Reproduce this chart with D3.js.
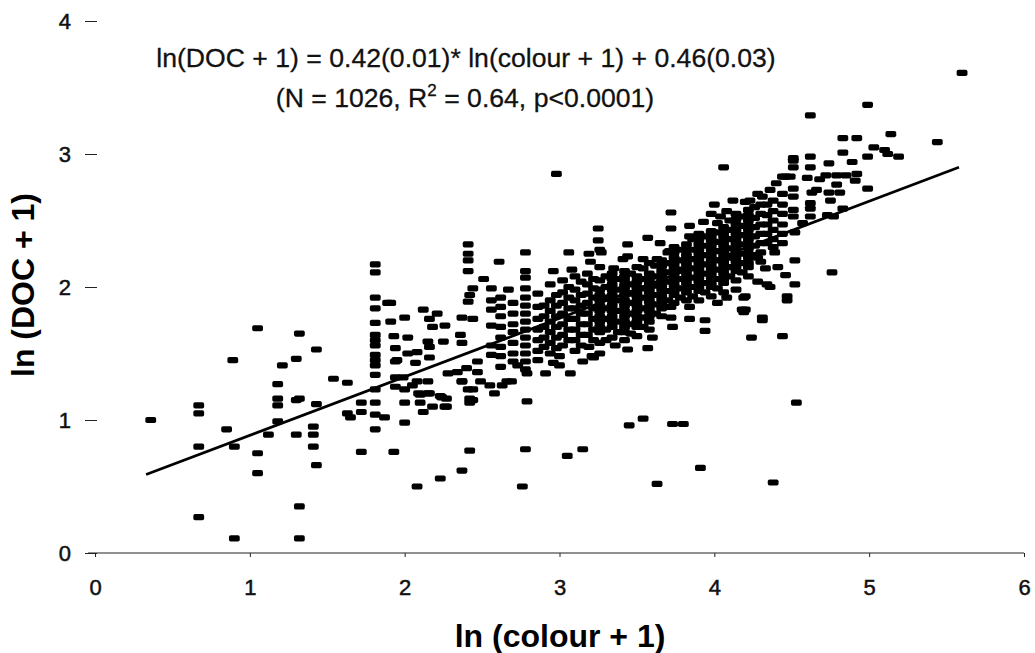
<!DOCTYPE html>
<html>
<head>
<meta charset="utf-8">
<script src="https://cdn.jsdelivr.net/npm/d3@7"></script>
<style>
  body { margin: 0; background: #fff; }
  svg { font-family: Arial, "Liberation Sans", sans-serif; }
  .tick text { font-size: 22px; fill: #111; stroke: #111; stroke-width: 0.5px; }
  .tick line { stroke: #222; }
</style>
</head>
<body>
<svg id="chart" width="1035" height="653"></svg>
<script>
// ln(colour + 1) vs ln(DOC + 1)
var points = [
  [0.36,1.00],[0.67,1.11],[0.67,1.05],[0.67,0.80],[0.67,0.27],[0.85,0.93],[0.90,0.80],[0.90,0.11],
  [1.05,0.75],[1.05,0.60],[1.12,0.89],[1.18,1.27],[1.18,1.16],[1.18,1.11],[1.18,0.99],[1.30,1.15],
  [1.30,0.89],[1.32,0.35],[1.32,0.11],[1.05,1.69],[0.89,1.45],[1.32,1.65],[1.43,1.53],[1.30,1.46],
  [1.21,1.41],[1.32,1.16],[1.54,1.31],[1.63,1.28],[1.43,1.12],[1.41,0.95],[1.41,0.89],[1.41,0.80],
  [1.43,0.66],[1.63,1.05],[1.65,1.02],[1.72,1.13],[1.72,1.06],[1.72,0.76],
  [1.81,2.17],[1.81,2.11],[1.81,1.92],[1.81,1.84],[1.81,1.73],[1.81,1.64],[1.81,1.60],[1.81,1.56],
  [1.81,1.49],[1.81,1.45],[1.81,1.41],[1.81,1.34],[1.81,1.23],[1.81,1.13],[1.81,1.04],[1.81,0.93],
  [1.89,1.88],[1.91,1.74],[1.93,1.63],[1.94,1.54],[1.94,1.44],[1.94,1.32],[1.94,1.25],[1.87,1.02],
  [1.93,0.76],[2.00,1.23],[2.00,1.13],[2.00,0.98],[2.10,1.13],[2.12,1.06],[2.18,1.10],[2.08,0.50],
  [2.23,0.56],[2.37,0.62],[2.42,0.77],[2.42,1.16],[2.42,1.13],[2.27,1.10],[2.27,1.16],[2.16,1.20],
  [2.23,1.18],[2.10,1.19],[2.05,1.26],[2.37,1.29],[2.49,1.29],[2.44,1.23],[2.58,1.20],[2.63,1.26],
  [2.69,1.29],[2.79,1.14],[2.78,0.78],[2.76,0.50],
  [2.41,2.32],[2.41,2.25],[2.41,2.20],[2.41,2.12],[2.61,2.19],[2.78,2.26],[2.78,2.12],[2.78,2.07],
  [2.78,1.99],[2.51,2.06],[3.06,2.26],[3.19,2.25],[3.20,2.19],[3.25,2.44],[3.25,2.35],[2.96,2.12],
  [3.08,2.13],[2.44,1.99],[2.42,1.94],[2.41,1.89],[2.56,1.99],[2.62,1.92],[2.67,1.98],[2.12,1.83],
  [2.21,1.80],[2.00,1.77],[2.16,1.76],[1.91,1.88],[2.18,1.70],[2.26,1.71],[2.37,1.77],[2.44,1.76],
  [2.02,1.62],[2.15,1.59],[2.25,1.59],[2.36,1.64],[2.37,1.58],[2.08,1.51],[2.02,1.50],[2.16,1.47],
  [2.16,1.55],[1.95,1.45],[2.07,1.43],[1.99,1.32],[2.08,1.29],[2.15,1.29],[2.28,1.35],[2.34,1.36],
  [2.40,1.39],[2.47,1.44],[2.47,1.36],[2.37,1.29],[2.09,1.20],[2.15,1.20],[2.24,1.17],[2.26,1.10],
  [2.41,1.23],[2.44,1.15],[2.55,1.26],[2.66,1.29],[2.79,1.35],[2.91,1.35],[3.07,1.35],[3.00,1.41],
  [2.73,1.41],[2.86,1.45],[2.96,1.43],[3.00,1.48],[3.15,1.44],[3.21,1.48],[3.19,1.55],
  [2.56,1.90],[2.56,1.83],[2.56,1.71],[2.56,1.56],[2.56,1.49],
  [2.62,1.85],[2.62,1.78],[2.62,1.70],[2.62,1.62],[2.62,1.55],[2.62,1.48],[2.62,1.40],
  [2.70,1.88],[2.70,1.80],[2.70,1.72],[2.70,1.66],[2.70,1.58],[2.70,1.50],[2.70,1.44],
  [2.78,1.92],[2.78,1.86],[2.78,1.80],[2.78,1.74],[2.78,1.68],[2.78,1.62],[2.78,1.56],[2.78,1.50],
  [2.78,1.44],[2.78,1.38],
  [2.86,1.95],[2.86,1.85],[2.86,1.76],[2.86,1.68],[2.86,1.60],[2.86,1.52],
  [2.90,1.86],[2.90,1.78],[2.90,1.70],[2.90,1.62],[2.90,1.55],
  [2.94,2.02],[2.94,1.90],[2.94,1.82],[2.94,1.74],[2.94,1.66],[2.94,1.58],[2.94,1.50],
  [2.98,1.94],[2.98,1.86],[2.98,1.78],[2.98,1.70],[2.98,1.62],[2.98,1.54],
  [3.02,2.05],[3.02,1.96],[3.02,1.88],[3.02,1.80],[3.02,1.72],[3.02,1.64],[3.02,1.56],
  [3.06,2.00],[3.06,1.92],[3.06,1.84],[3.06,1.76],[3.06,1.68],[3.06,1.60],
  [3.10,2.08],[3.10,1.98],[3.10,1.90],[3.10,1.84],[3.10,1.76],[3.10,1.68],[3.10,1.60],[3.10,1.52],
  [3.14,2.04],[3.14,1.94],[3.14,1.86],[3.14,1.80],[3.14,1.72],[3.14,1.64],[3.14,1.56],
  [3.18,2.10],[3.18,2.02],[3.18,1.95],[3.18,1.88],[3.18,1.80],[3.18,1.72],[3.18,1.64],
  [3.22,2.06],[3.22,1.99],[3.22,1.92],[3.22,1.84],[3.22,1.76],[3.22,1.68],[3.22,1.60],
  [3.26,2.28],[3.26,2.15],[3.26,2.05],[3.26,1.98],[3.26,1.90],[3.26,1.82],[3.26,1.74],[3.26,1.66],
  [3.26,1.58],[3.26,1.50],[3.26,1.94],[3.26,1.86],[3.26,1.78],[3.26,1.70],
  [3.30,2.08],[3.30,2.00],[3.30,1.92],[3.30,1.84],[3.30,1.76],[3.30,1.68],[3.30,1.60],
  [3.27,2.26],[3.72,2.44],[3.84,2.46],[3.84,2.38],[3.93,2.49],[4.04,2.53],[4.08,2.57],[4.23,2.65],
  [4.31,2.68],[3.44,2.32],[3.57,2.37],[3.65,2.33],[3.71,2.27],[3.44,2.23],[3.41,2.21],[3.54,2.21],
  [3.35,2.14],[3.63,2.21],
  [3.72,1.85],[3.84,1.85],[3.84,1.76],[3.72,1.77],[3.73,1.70],[3.94,1.75],[3.94,1.67],[4.08,1.92],
  [4.19,1.92],[4.19,1.81],[4.31,1.75],[4.24,1.62],[4.33,2.14],[4.34,2.02],[3.60,1.62],[3.57,1.54],
  [3.44,1.53],[3.36,1.56],[3.22,1.47],[4.02,1.88],[4.18,1.83],
  [3.34,2.10],[3.34,2.02],[3.34,1.94],[3.34,1.86],[3.34,1.78],[3.34,1.70],[3.34,1.62],
  [3.34,2.06],[3.34,1.98],[3.34,1.90],[3.34,1.82],[3.34,1.74],
  [3.38,2.06],[3.38,1.98],[3.38,1.90],[3.38,1.82],[3.38,1.74],[3.38,1.66],
  [3.42,2.12],[3.42,2.05],[3.42,1.98],[3.42,1.90],[3.42,1.82],[3.42,1.74],[3.42,1.66],[3.42,1.60],
  [3.42,2.08],[3.42,2.01],[3.42,1.94],[3.42,1.86],[3.42,1.78],[3.42,1.70],
  [3.46,2.10],[3.46,2.02],[3.46,1.95],[3.46,1.88],[3.46,1.80],[3.46,1.72],[3.46,1.65],
  [3.50,2.15],[3.50,2.08],[3.50,2.00],[3.50,1.93],[3.50,1.86],[3.50,1.78],[3.50,1.70],[3.50,1.63],
  [3.50,2.04],[3.50,1.96],[3.50,1.89],[3.50,1.82],[3.50,1.74],
  [3.54,2.14],[3.54,2.06],[3.54,1.99],[3.54,1.92],[3.54,1.84],[3.54,1.77],[3.54,1.70],
  [3.58,2.18],[3.58,2.10],[3.58,2.03],[3.58,1.96],[3.58,1.89],[3.58,1.82],[3.58,1.74],[3.58,1.68],
  [3.58,2.06],[3.58,1.99],[3.58,1.92],[3.58,1.85],[3.58,1.78],
  [3.62,2.16],[3.62,2.08],[3.62,2.01],[3.62,1.94],[3.62,1.87],[3.62,1.80],
  [3.66,2.20],[3.66,2.12],[3.66,2.05],[3.66,1.98],[3.66,1.91],[3.66,1.84],[3.66,1.78],
  [3.66,2.16],[3.66,2.08],[3.66,2.01],[3.66,1.94],[3.66,1.87],
  [3.70,2.26],[3.70,2.18],[3.70,2.11],[3.70,2.04],[3.70,1.97],[3.70,1.90],
  [3.74,2.30],[3.74,2.22],[3.74,2.15],[3.74,2.08],[3.74,2.01],[3.74,1.94],[3.74,1.88],
  [3.74,2.26],[3.74,2.18],[3.74,2.11],[3.74,2.04],[3.74,1.97],
  [3.78,2.28],[3.78,2.20],[3.78,2.13],[3.78,2.06],[3.78,1.99],[3.78,1.92],
  [3.82,2.32],[3.82,2.24],[3.82,2.17],[3.82,2.10],[3.82,2.03],[3.82,1.96],[3.82,1.90],
  [3.82,2.28],[3.82,2.20],[3.82,2.13],[3.82,2.06],[3.82,1.99],
  [3.86,2.36],[3.86,2.28],[3.86,2.21],[3.86,2.14],[3.86,2.07],[3.86,2.00],[3.86,1.93],
  [3.90,2.40],[3.90,2.32],[3.90,2.25],[3.90,2.18],[3.90,2.11],[3.90,2.04],[3.90,1.97],[3.90,1.90],
  [3.90,2.36],[3.90,2.28],[3.90,2.21],[3.90,2.14],[3.90,2.07],[3.90,2.00],
  [3.94,2.38],[3.94,2.31],[3.94,2.24],[3.94,2.17],[3.94,2.10],[3.94,2.03],[3.94,1.96],
  [3.98,2.42],[3.98,2.35],[3.98,2.28],[3.98,2.21],[3.98,2.14],[3.98,2.07],[3.98,2.00],[3.98,1.93],
  [3.98,2.38],[3.98,2.31],[3.98,2.24],[3.98,2.17],[3.98,2.10],[3.98,2.03],
  [4.02,2.48],[4.02,2.41],[4.02,2.34],[4.02,2.27],[4.02,2.20],[4.02,2.13],[4.02,2.06],[4.02,1.99],
  [4.06,2.45],[4.06,2.38],[4.06,2.31],[4.06,2.24],[4.06,2.17],[4.06,2.10],[4.06,2.03],[4.06,1.96],
  [4.06,2.41],[4.06,2.34],[4.06,2.27],[4.06,2.20],[4.06,2.13],[4.06,2.06],
  [4.10,2.50],[4.10,2.43],[4.10,2.36],[4.10,2.29],[4.10,2.22],[4.10,2.15],[4.10,2.08],
  [4.14,2.55],[4.14,2.47],[4.14,2.40],[4.14,2.33],[4.14,2.26],[4.14,2.19],[4.14,2.12],[4.14,2.05],
  [4.14,1.98],[4.14,2.51],[4.14,2.43],[4.14,2.36],[4.14,2.29],[4.14,2.22],[4.14,2.15],
  [4.18,2.53],[4.18,2.46],[4.18,2.39],[4.18,2.32],[4.18,2.25],[4.18,2.18],[4.18,2.11],
  [4.22,2.58],[4.22,2.50],[4.22,2.43],[4.22,2.36],[4.22,2.29],[4.22,2.22],[4.22,2.15],[4.22,2.08],
  [4.22,2.54],[4.22,2.46],[4.22,2.39],[4.22,2.32],[4.22,2.25],[4.22,2.18],
  [4.26,2.60],[4.26,2.52],[4.26,2.45],[4.26,2.38],[4.26,2.31],[4.26,2.24],
  [4.30,2.62],[4.30,2.55],[4.30,2.47],[4.30,2.40],[4.30,2.33],[4.30,2.26],[4.30,2.19],
  [4.34,2.62],[4.34,2.54],[4.34,2.47],[4.34,2.40],[4.34,2.33],
  [4.38,2.65],[4.38,2.57],[4.38,2.50],[4.38,2.43],[4.38,2.36],[4.38,2.30],
  [4.44,2.70],[4.44,2.62],[4.44,2.55],[4.44,2.47],[4.44,2.40],[4.44,2.33],
  [4.12,2.65],[4.20,2.64],[4.28,2.70],[4.36,2.73],[4.40,2.78],[4.00,2.62],[3.98,2.55],
  [5.60,3.61],[4.99,3.37],[4.62,3.29],[5.14,3.15],[5.44,3.09],[4.83,3.12],[4.92,3.12],[4.83,3.01],
  [5.03,3.05],[5.10,3.03],[5.12,3.00],[5.19,2.98],[4.99,2.98],[4.89,2.94],[4.74,2.93],[4.62,2.98],
  [4.62,2.90],[4.51,2.97],[4.51,2.90],[4.72,2.84],[4.79,2.84],[4.85,2.84],[4.92,2.85],[4.91,2.80],
  [4.79,2.77],[4.99,2.74],[4.68,2.81],[4.60,2.82],[4.49,2.83],[4.44,2.83],[4.74,2.71],[4.81,2.71],
  [4.63,2.71],[4.66,2.73],[4.75,2.65],[4.62,2.63],[4.62,2.59],[4.51,2.74],[4.51,2.68],[4.51,2.58],
  [4.51,2.53],[4.62,2.53],[4.73,2.54],[4.77,2.53],[4.83,2.59],[4.57,2.48],[4.52,2.41],[4.52,2.20],
  [4.39,2.26],[4.28,2.22],[4.41,2.15],[4.46,2.09],[4.52,2.02],[4.36,2.00],[4.28,2.04],[4.47,1.93],
  [4.20,1.93],[4.20,1.83],[4.31,1.77],[4.76,2.11],
  [2.98,2.85],[4.06,2.90],[4.51,2.95],[4.46,2.83],[3.72,2.56],[4.47,1.90],[4.44,1.63],[4.53,1.13],
  [3.45,0.96],[3.54,1.01],[3.73,0.97],[3.80,0.97],[3.05,0.73],[3.15,0.78],[3.63,0.52],[3.91,0.64],
  [4.38,0.53]
];

var fitLine = [[0.33, 0.59], [5.58, 2.90]];
var xTicks = [0, 1, 2, 3, 4, 5, 6];
var yTicks = [0, 1, 2, 3, 4];
var eqLine1 = "ln(DOC + 1) = 0.42(0.01)* ln(colour + 1) + 0.46(0.03)";
var xTitle = "ln (colour + 1)";
var yTitle = "ln (DOC + 1)";

var svg = d3.select("#chart");

var x = d3.scaleLinear().domain([0, 6]).range([95, 1024]);
var y = d3.scaleLinear().domain([0, 4]).range([553, 21]);

// x axis: thin baseline running a little left of 0
svg.append("line")
    .attr("x1", x(-0.045)).attr("x2", x(6))
    .attr("y1", y(0)).attr("y2", y(0))
    .attr("stroke", "#222").attr("stroke-width", 1.2);

var xAxis = svg.append("g")
    .attr("transform", "translate(0," + y(0) + ")")
    .call(d3.axisBottom(x).tickValues(xTicks).tickFormat(d3.format("d")).tickSize(4).tickPadding(22));
xAxis.select(".domain").remove();

var yAxis = svg.append("g")
    .attr("transform", "translate(97,0)")
    .call(d3.axisLeft(y).tickValues(yTicks).tickFormat(d3.format("d")).tickSize(12).tickPadding(14));
yAxis.select(".domain").remove();

// regression line
svg.append("path")
    .datum(fitLine)
    .attr("fill", "none")
    .attr("stroke", "#000")
    .attr("stroke-width", 2.6)
    .attr("d", d3.line().x(function(d) { return x(d[0]); }).y(function(d) { return y(d[1]); }));

svg.append("g").selectAll("rect")
    .data(points).enter()
    .append("rect")
    .attr("x", function(d) { return x(d[0]) - 5.4; })
    .attr("y", function(d) { return y(d[1]) - 3.1; })
    .attr("width", 10.8)
    .attr("height", 6.2)
    .attr("rx", 1.8)
    .attr("fill", "#000");

// equation
var eqStyle = function(t) {
  t.attr("text-anchor", "middle")
   .style("font-size", "26.6px")
   .style("fill", "#111").style("stroke", "#111").style("stroke-width", "0.3px");
};

svg.append("text")
    .attr("x", 466).attr("y", 67)
    .call(eqStyle)
    .text(eqLine1);

var eq2 = svg.append("text")
    .attr("x", 465).attr("y", 107)
    .call(eqStyle);
eq2.append("tspan").text("(N = 1026, R");
eq2.append("tspan").attr("dy", -11).style("font-size", "17px").text("2");
eq2.append("tspan").attr("dy", 11).text(" = 0.64, p<0.0001)");

svg.append("text")
    .attr("x", 560).attr("y", 647)
    .attr("text-anchor", "middle")
    .style("font-size", "32px").style("font-weight", "bold")
    .text(xTitle);

svg.append("text")
    .attr("transform", "translate(34,285) rotate(-90)")
    .attr("text-anchor", "middle")
    .style("font-size", "32px").style("font-weight", "bold")
    .text(yTitle);
</script>
</body>
</html>
